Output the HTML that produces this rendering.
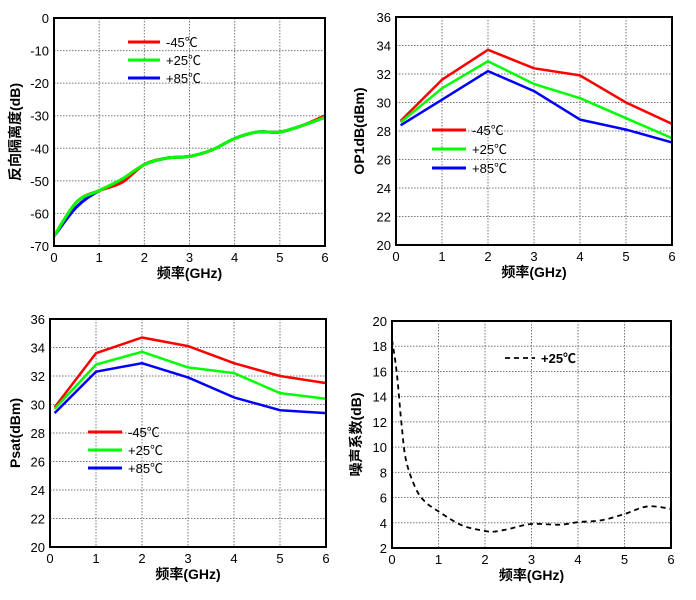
<!DOCTYPE html>
<html><head><meta charset="utf-8"><style>
html,body{margin:0;padding:0;background:#fff;}
svg{display:block;font-family:"Liberation Sans","Noto Sans CJK SC",sans-serif;}
</style></head><body>
<svg id="s" width="696" height="600" xmlns="http://www.w3.org/2000/svg"></svg>
<script>
const S=document.getElementById('s');let h='';
function cr(pts,lin){let d='M'+pts[0][0].toFixed(1)+','+pts[0][1].toFixed(1);
if(lin){for(let i=1;i<pts.length;i++)d+='L'+pts[i][0].toFixed(1)+','+pts[i][1].toFixed(1);return d;}
for(let i=0;i<pts.length-1;i++){const p0=pts[i-1]||pts[i],p1=pts[i],p2=pts[i+1],p3=pts[i+2]||p2;
const c1=[p1[0]+(p2[0]-p0[0])/6,p1[1]+(p2[1]-p0[1])/6],c2=[p2[0]-(p3[0]-p1[0])/6,p2[1]-(p3[1]-p1[1])/6];
d+=`C${c1[0].toFixed(1)},${c1[1].toFixed(1)} ${c2[0].toFixed(1)},${c2[1].toFixed(1)} ${p2[0].toFixed(1)},${p2[1].toFixed(1)}`;}return d;}
function panel(P){const {x0,x1,y0,y1,ymin,ymax,ystep,ylab,series,legend}=P;
const X=f=>x0+(x1-x0)*f/6,Y=v=>y1-(y1-y0)*(v-ymin)/(ymax-ymin);
for(let f=1;f<6;f++)h+=`<line x1="${X(f)}" y1="${y0}" x2="${X(f)}" y2="${y1}" stroke="#777" stroke-width="1" stroke-dasharray="1.5,1.5"/>`;
for(let v=ymin+ystep;v<ymax;v+=ystep)h+=`<line x1="${x0}" y1="${Y(v)}" x2="${x1}" y2="${Y(v)}" stroke="#777" stroke-width="1" stroke-dasharray="1.5,1.5"/>`;
for(const s of series){h+=`<path d="${cr(s.d.map(p=>[X(p[0]),Y(p[1])]),P.lin)}" fill="none" stroke="${s.c}" stroke-width="${s.w||3}" stroke-linejoin="round" ${s.dash?'stroke-dasharray="5,4"':''}/>`;}
h+=`<rect x="${x0}" y="${y0}" width="${x1-x0}" height="${y1-y0}" fill="none" stroke="#000" stroke-width="2"/>`;
for(let f=0;f<=6;f++){h+=`<text x="${X(f)}" y="${y1+16}" font-size="13" text-anchor="middle">${f}</text>`;}
for(let v=ymin;v<=ymax;v+=ystep){h+=`<text x="${x0-5}" y="${Y(v)+5}" font-size="13" text-anchor="end">${v}</text>`;}
h+=`<text x="${(x0+x1)/2}" y="${y1+32}" font-size="14" font-weight="bold" text-anchor="middle">频率(GHz)</text>`;
h+=`<text transform="translate(${P.ylx},${(y0+y1)/2}) rotate(-90)" font-size="14" font-weight="bold" text-anchor="middle">${ylab}</text>`;
for(const l of legend){h+=`<line x1="${l.x}" y1="${l.y}" x2="${l.x+l.len}" y2="${l.y}" stroke="${l.c}" stroke-width="${l.w||3}" ${l.dash?'stroke-dasharray="5,4"':''}/><text x="${l.x+l.len+6}" y="${l.y+5}" font-size="13" ${l.b?'font-weight="bold"':''}>${l.t}</text>`;}
}
const T=['-45℃','+25℃','+85℃'],C=['#f00','#0f0','#00f'];
const base=[[0,-67],[0.5,-56.5],[1,-53],[1.5,-50],[2,-45],[2.5,-43],[3,-42.5],[3.5,-40.5],[4,-37],[4.5,-35],[5,-35],[5.5,-33],[6,-30]];
const r1=base.map(p=>[p[0],p[0]==1.5?-50.5:p[1]]);
const b1=base.map(p=>[p[0],p[0]==0.5?-58:(p[0]==6?-30.5:p[1])]);
const g1=base.map(p=>[p[0],p[0]==1.5?-49.5:(p[0]==6?-30.5:p[1])]);
panel({x0:54,x1:325,y0:18,y1:246,ymin:-70,ymax:0,ystep:10,ylab:'反向隔离度(dB)',ylx:20,
series:[{c:C[2],d:b1},{c:C[0],d:r1},{c:C[1],d:g1}],
legend:T.map((t,i)=>({x:128,y:42+i*18,len:32,c:C[i],t}))});
const f7=[0.1,1,2,3,4,5,6];
const z=a=>f7.map((f,i)=>[f,a[i]]);
panel({x0:396,x1:672,y0:17,y1:245,ymin:20,ymax:36,ystep:2,ylab:'OP1dB(dBm)',ylx:364,lin:1,
series:[{c:C[0],d:z([28.7,31.6,33.7,32.4,31.9,30,28.5]),w:2.5},{c:C[1],d:z([28.6,31,32.9,31.3,30.3,28.9,27.5]),w:2.5},{c:C[2],d:z([28.4,30.2,32.2,30.8,28.8,28.1,27.2]),w:2.5}],
legend:T.map((t,i)=>({x:432,y:130+i*19,len:34,c:C[i],t}))});
panel({x0:50,x1:326,y0:319,y1:547,ymin:20,ymax:36,ystep:2,ylab:'Psat(dBm)',ylx:20,lin:1,
series:[{c:C[0],d:z([29.8,33.6,34.7,34.1,32.9,32,31.5]),w:2.5},{c:C[1],d:z([29.7,32.8,33.7,32.6,32.2,30.8,30.4]),w:2.5},{c:C[2],d:z([29.4,32.3,32.9,31.9,30.5,29.6,29.4]),w:2.5}],
legend:T.map((t,i)=>({x:88,y:432+i*18,len:34,c:C[i],t}))});
panel({x0:392,x1:671,y0:321,y1:548,ymin:2,ymax:20,ystep:2,ylab:'噪声系数(dB)',ylx:361,
series:[{c:'#000',w:1.8,dash:1,d:[[0,18.5],[0.1,16],[0.2,12],[0.3,9],[0.5,6.8],[0.7,5.7],[1,4.9],[1.5,3.8],[2,3.35],[2.2,3.3],[2.5,3.5],[3,3.9],[3.6,3.85],[4,4.05],[4.5,4.2],[5,4.7],[5.5,5.3],[6,5.1]]}],
legend:[{x:505,y:358,len:30,c:'#000',w:1.8,dash:1,t:'+25℃',b:1}]});
S.innerHTML=h;
</script>
</body></html>
